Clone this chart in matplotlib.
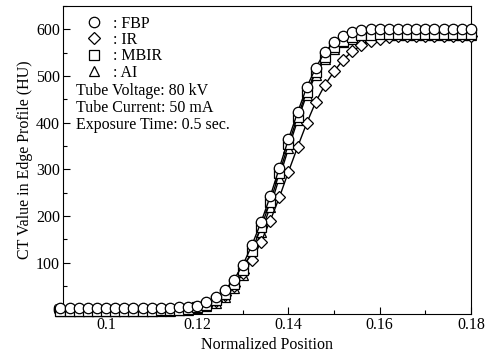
import numpy as np
import matplotlib
matplotlib.use("Agg")
import matplotlib.pyplot as plt
from matplotlib.lines import Line2D

plt.rcParams['font.family'] = ['Liberation Serif', 'DejaVu Serif']
plt.rcParams['font.size'] = 11.5

# normalized position, 0.09 .. 0.18 in steps of 0.002
position = [0.090, 0.092, 0.094, 0.096, 0.098, 0.100, 0.102, 0.104, 0.106, 0.108,
            0.110, 0.112, 0.114, 0.116, 0.118, 0.120, 0.122, 0.124, 0.126, 0.128,
            0.130, 0.132, 0.134, 0.136, 0.138, 0.140, 0.142, 0.144, 0.146, 0.148,
            0.150, 0.152, 0.154, 0.156, 0.158, 0.160, 0.162, 0.164, 0.166, 0.168,
            0.170, 0.172, 0.174, 0.176, 0.178, 0.180]

fbp = [2, 2, 2, 2, 2, 2, 2, 2, 3, 3,
       3, 3, 3, 4, 5, 8, 15, 26, 41, 63,
       95, 138, 187, 242, 303, 365, 422, 476, 518, 552,
       572, 586, 594, 598, 600, 601, 601, 601, 601, 601,
       601, 601, 601, 601, 601, 600]

ir = [-1, -1, -1, -1, -1, -1, -1, -1, -1, -1,
      -1, -1, 0, 0, 2, 5, 10, 18, 30, 50,
      77, 106, 145, 190, 240, 295, 348, 399, 445, 481,
      510, 535, 553, 566, 575, 580, 583, 585, 586, 586,
      586, 586, 586, 586, 586, 586]

mbir = [-3, -3, -3, -3, -3, -3, -3, -3, -3, -3,
        -3, -2, -2, -1, 1, 5, 10, 19, 33, 54,
        84, 126, 176, 231, 292, 354, 413, 466, 508, 541,
        562, 576, 583, 587, 588, 589, 589, 589, 589, 589,
        589, 589, 589, 589, 589, 589]

ai = [-4, -4, -4, -4, -4, -4, -4, -4, -4, -4,
      -4, -3, -3, -2, -1, 3, 7, 14, 26, 45,
      74, 115, 165, 220, 282, 345, 405, 460, 503, 537,
      558, 572, 580, 584, 586, 587, 587, 587, 587, 587,
      587, 587, 587, 587, 587, 587]

fig = plt.figure(figsize=(4.88, 3.54), dpi=100)
ax = fig.add_axes([0.1285, 0.113, 0.8365, 0.870])

style = dict(color='black', lw=1.0, mfc='white', mec='black', mew=0.9, clip_on=False)
ax.plot(position, ai, marker='^', ms=7.5, zorder=2, **style)
ax.plot(position, ir, marker='D', ms=6.5, zorder=3, **style)
ax.plot(position, mbir, marker='s', ms=6.5, zorder=4, **style)
ax.plot(position, fbp, marker='o', ms=7.5, zorder=5, **style)

ax.set_xlim(0.0905, 0.18)
ax.set_ylim(-10, 650)
ax.set_xticks([0.1, 0.12, 0.14, 0.16, 0.18])
ax.set_xticklabels(['0.1', '0.12', '0.14', '0.16', '0.18'])
ax.set_xticks(np.arange(0.10, 0.181, 0.01), minor=True)
ax.set_yticks([0, 100, 200, 300, 400, 500, 600])
ax.set_yticks(np.arange(0, 651, 50), minor=True)
ax.tick_params(which='both', direction='in', top=False, right=False, pad=2)
ax.tick_params(which='major', length=5, width=0.8)
ax.tick_params(which='minor', length=3, width=0.8)

ax.set_xlabel("Normalized Position", labelpad=3)
ax.set_ylabel("CT Value in Edge Profile (HU)", labelpad=2)

handles = [Line2D([], [], ls='none', marker=m, ms=s, mfc='white', mec='black', mew=0.9)
           for m, s in [('o', 7.5), ('D', 6.5), ('s', 6.5), ('^', 7.5)]]
ax.legend(handles, [': FBP', ': IR', ': MBIR', ': AI'], loc='upper left',
          bbox_to_anchor=(0.03, 1.005), frameon=False, handlelength=1.0,
          handletextpad=0.7, labelspacing=0.02, borderpad=0.2, fontsize=11.5)

ax.text(0.032, 0.75, "Tube Voltage: 80 kV\nTube Current: 50 mA\nExposure Time: 0.5 sec.",
        transform=ax.transAxes, ha='left', va='top', linespacing=1.1)

fig.savefig("out.png", dpi=100)
